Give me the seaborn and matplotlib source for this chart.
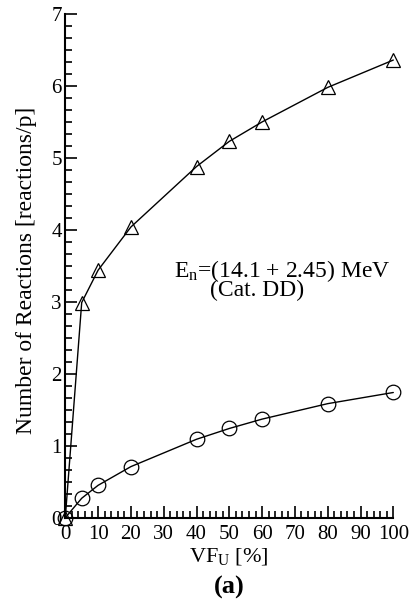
import matplotlib
matplotlib.use("Agg")
import matplotlib.pyplot as plt
import seaborn as sns
import pandas as pd
from matplotlib.ticker import MultipleLocator, AutoMinorLocator

vf_u = [0, 5, 10, 20, 40, 50, 60, 80, 100]
reactions_tri = [0.0, 2.99, 3.44, 4.04, 4.88, 5.23, 5.50, 5.98, 6.36]
reactions_circ = [0.0, 0.27, 0.45, 0.71, 1.09, 1.24, 1.37, 1.585, 1.74]

sns.set_theme(style="ticks")
plt.rcParams['font.family'] = ['Liberation Serif', 'DejaVu Serif']
plt.rcParams['mathtext.fontset'] = 'custom'
plt.rcParams['mathtext.rm'] = 'Liberation Serif'
plt.rcParams['mathtext.it'] = 'Liberation Serif:italic'
plt.rcParams['mathtext.bf'] = 'Liberation Serif:bold'

fig = plt.figure(figsize=(4.11, 6.06), dpi=100)
ax = fig.add_axes([65.3/411, 1-517.7/606, (393.3-65.3)/411, (517.7-14)/606])

df_t = pd.DataFrame({"x": vf_u, "y": reactions_tri})
df_c = pd.DataFrame({"x": vf_u, "y": reactions_circ})
sns.lineplot(data=df_t, x="x", y="y", ax=ax, color="black", lw=1.0,
             marker="^", markersize=9.5, markerfacecolor="none",
             markeredgecolor="black", markeredgewidth=0.9, clip_on=False)
sns.lineplot(data=df_c, x="x", y="y", ax=ax, color="black", lw=1.0,
             marker="o", markersize=10.5, markerfacecolor="none",
             markeredgecolor="black", markeredgewidth=0.9, clip_on=False)

ax.set_xlim(0, 100)
ax.set_ylim(0, 7)
ax.xaxis.set_major_locator(MultipleLocator(10))
ax.xaxis.set_minor_locator(MultipleLocator(2))
ax.yaxis.set_major_locator(MultipleLocator(1))
ax.yaxis.set_minor_locator(AutoMinorLocator(6))
ax.tick_params(which='both', direction='in', color='black', width=1.2,
               labelsize=15, labelcolor='black')
ax.tick_params(which='major', length=8.5)
ax.tick_params(axis='y', which='major', pad=2.5)
ax.tick_params(axis='x', which='major', pad=5)
ax.tick_params(which='minor', length=5)
for s in ['top', 'right']:
    ax.spines[s].set_visible(False)
for s in ['left', 'bottom']:
    ax.spines[s].set_color('black')
    ax.spines[s].set_linewidth(1.5)

ax.set_xlabel(r"VF$_\mathrm{U}$ [%]", fontsize=16, color='black', labelpad=2)
ax.set_ylabel("Number of Reactions [reactions/p]", fontsize=17, color='black')
ax.yaxis.set_label_coords(-0.086, 0.492)

ax.text(33.1, 3.43, r"E$_\mathrm{n}$=(14.1 + 2.45) MeV", fontsize=17,
        ha='left', va='center', color='black')
ax.text(44.1, 3.165, "(Cat. DD)", fontsize=17, ha='left', va='center', color='black')

fig.text((65.3+393.3)/2/411, 1-587/606, "(a)", fontsize=19, fontweight='bold',
         ha='center', va='center', color='black')

fig.savefig("out.png", dpi=100)
